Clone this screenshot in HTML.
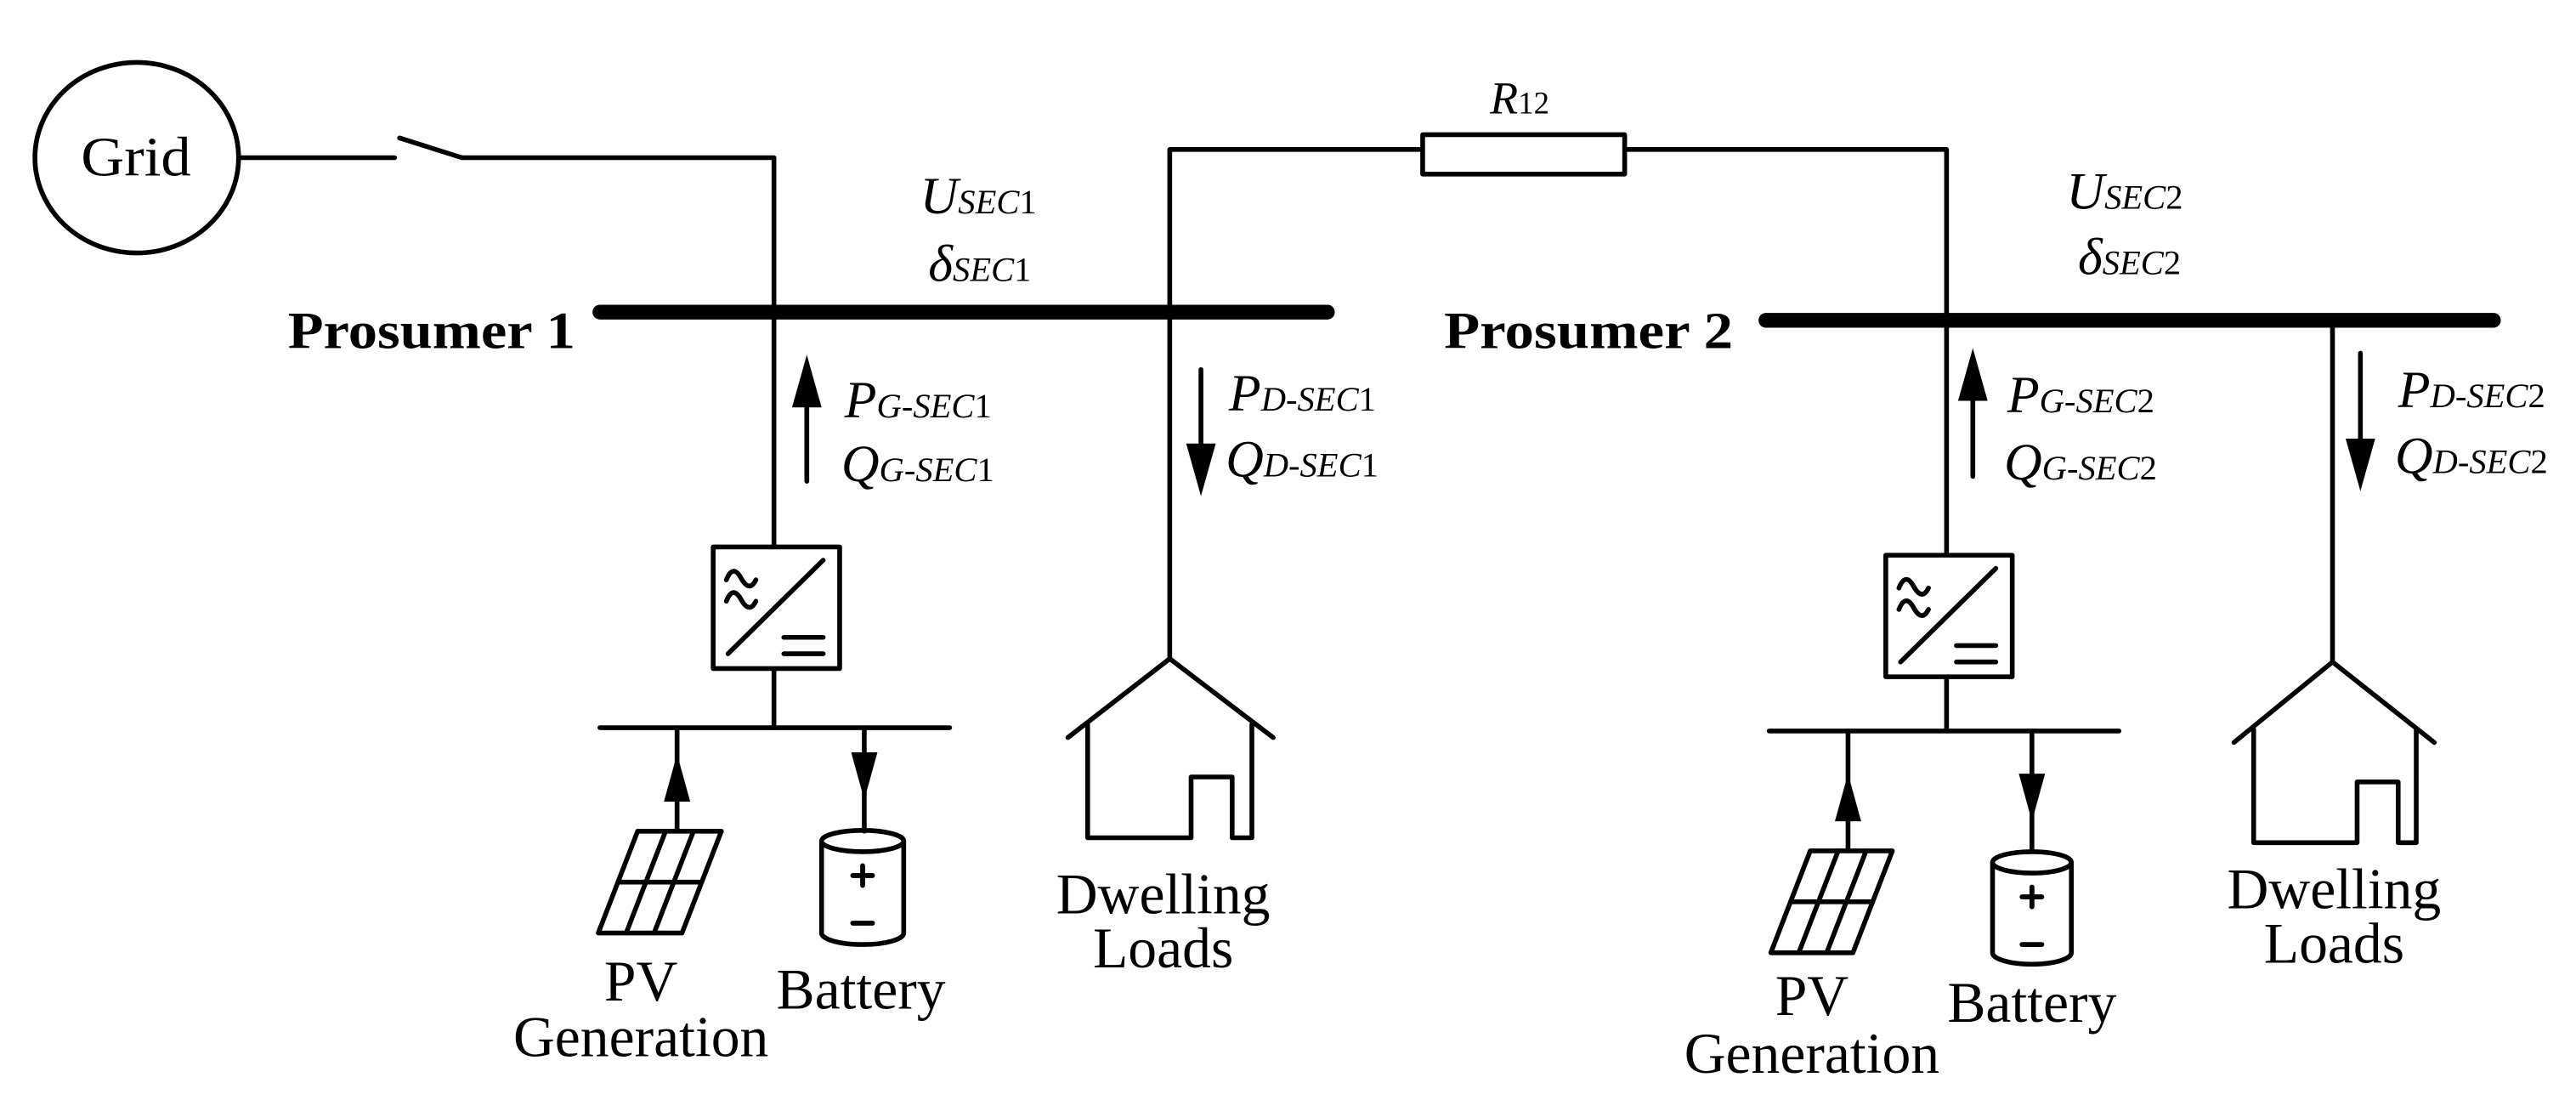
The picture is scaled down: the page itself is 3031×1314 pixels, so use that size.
<!DOCTYPE html>
<html><head><meta charset="utf-8"><style>
html,body{margin:0;padding:0;background:#fff;}
svg{display:block;}
text{font-family:"Liberation Serif",serif;fill:#000;}
.it{font-style:italic;}
</style></head><body>
<svg width="3031" height="1314" viewBox="0 0 1568 680" xmlns="http://www.w3.org/2000/svg">
<g fill="none" stroke="#000" stroke-width="2.9" stroke-linecap="round" stroke-linejoin="round">
  <ellipse cx="83" cy="96" rx="62" ry="58"/>
  <line x1="145" y1="96" x2="240" y2="96"/>
  <line x1="243" y1="84" x2="281" y2="96"/>
  <polyline points="281,96 471,96 471,443"/>
  <line x1="365" y1="190" x2="808" y2="190" stroke-width="9"/>
  <line x1="1075" y1="195" x2="1518" y2="195" stroke-width="9"/>
  <polyline points="712,401 712,91 866,91"/>
  <rect x="866" y="82" width="123" height="24"/>
  <polyline points="989,91 1185,91 1185,445"/>
  <line x1="491" y1="293" x2="491" y2="240"/>
  <line x1="731" y1="225" x2="731" y2="280"/>
  <line x1="1201" y1="290" x2="1201" y2="236"/>
  <line x1="1437" y1="215" x2="1437" y2="278"/>
  <line x1="1420" y1="195" x2="1420" y2="403"/>
  <rect x="434" y="333" width="77" height="74" fill="#fff"/>
  <path d="M442,353 q4,-10 9,-1 t9,1 M442,366 q4,-10 9,-1 t9,1"/>
  <line x1="443" y1="398" x2="501" y2="341"/>
  <line x1="477" y1="388" x2="501" y2="388"/>
  <line x1="477" y1="398" x2="501" y2="398"/>
  <line x1="365" y1="443" x2="578" y2="443"/>
  <line x1="412" y1="443" x2="412" y2="506"/>
  <line x1="526" y1="443" x2="526" y2="506"/>
  <polygon points="388,506 439,506 415,568 364,568"/>
  <line x1="376" y1="537" x2="427" y2="537"/>
  <line x1="405" y1="506" x2="381" y2="568"/>
  <line x1="422" y1="506" x2="398" y2="568"/>
  <path d="M500,512 L500,568 A25,7 0 0 0 550,568 L550,512"/>
  <ellipse cx="525" cy="512" rx="25" ry="6.5"/>
  <line x1="519" y1="533" x2="531" y2="533" stroke-width="3"/>
  <line x1="525" y1="527" x2="525" y2="539" stroke-width="3"/>
  <line x1="519" y1="562" x2="531" y2="562" stroke-width="3"/>
  <polyline points="650,449 712,401 775,449"/>
  <polyline points="662,441 662,510 725,510 725,473 750,473 750,510 762,510 762,441"/>
  <rect x="1148" y="338" width="77" height="74" fill="#fff"/>
  <path d="M1156,358 q4,-10 9,-1 t9,1 M1156,371 q4,-10 9,-1 t9,1"/>
  <line x1="1157" y1="403" x2="1215" y2="346"/>
  <line x1="1191" y1="393" x2="1215" y2="393"/>
  <line x1="1191" y1="403" x2="1215" y2="403"/>
  <line x1="1077" y1="445" x2="1290" y2="445"/>
  <line x1="1125" y1="445" x2="1125" y2="518"/>
  <line x1="1237" y1="445" x2="1237" y2="518"/>
  <polygon points="1102,518 1152,518 1128,580 1078,580"/>
  <line x1="1090" y1="549" x2="1140" y2="549"/>
  <line x1="1119" y1="518" x2="1095" y2="580"/>
  <line x1="1136" y1="518" x2="1112" y2="580"/>
  <path d="M1213,525 L1213,580 A24,7 0 0 0 1261,580 L1261,525"/>
  <ellipse cx="1237" cy="525" rx="24" ry="6.5"/>
  <line x1="1231" y1="546" x2="1243" y2="546" stroke-width="3"/>
  <line x1="1237" y1="540" x2="1237" y2="552" stroke-width="3"/>
  <line x1="1231" y1="575" x2="1243" y2="575" stroke-width="3"/>
  <polyline points="1360,452 1420,403 1482,452"/>
  <polyline points="1372,444 1372,513 1435,513 1435,476 1460,476 1460,513 1471,513 1471,444"/>
</g>
<g fill="#000">
  <polygon points="491,216 482,248 500,248"/>
  <polygon points="731,302 722,270 740,270"/>
  <polygon points="1201,212 1192,244 1210,244"/>
  <polygon points="1437,299 1428,267 1446,267"/>
  <polygon points="412,459 404,488 420,488"/>
  <polygon points="526,487 518,458 534,458"/>
  <polygon points="1125,471 1117,500 1133,500"/>
  <polygon points="1237,500 1229,471 1245,471"/>
</g>
<text x="49" y="107" font-size="34" textLength="67" lengthAdjust="spacingAndGlyphs">Grid</text>
<text x="175" y="212" font-size="32" font-weight="bold" textLength="175" lengthAdjust="spacingAndGlyphs">Prosumer 1</text>
<text x="879" y="212" font-size="32" font-weight="bold" textLength="176" lengthAdjust="spacingAndGlyphs">Prosumer 2</text>
<text x="907" y="69" font-size="28"><tspan class="it">R</tspan><tspan font-size="19">12</tspan></text>
<text x="560" y="130" font-size="32"><tspan class="it">U</tspan><tspan class="it" font-size="21">SEC</tspan><tspan font-size="21">1</tspan></text>
<text x="565" y="171" font-size="32"><tspan class="it">δ</tspan><tspan class="it" font-size="21">SEC</tspan><tspan font-size="21">1</tspan></text>
<text x="1258" y="127" font-size="32"><tspan class="it">U</tspan><tspan class="it" font-size="21">SEC</tspan><tspan font-size="21">2</tspan></text>
<text x="1265" y="167" font-size="32"><tspan class="it">δ</tspan><tspan class="it" font-size="21">SEC</tspan><tspan font-size="21">2</tspan></text>
<text x="514" y="254" font-size="32"><tspan class="it">P</tspan><tspan class="it" font-size="21">G-SEC</tspan><tspan font-size="21">1</tspan></text>
<text x="512" y="293" font-size="32"><tspan class="it">Q</tspan><tspan class="it" font-size="21">G-SEC</tspan><tspan font-size="21">1</tspan></text>
<text x="748" y="250" font-size="32"><tspan class="it">P</tspan><tspan class="it" font-size="21">D-SEC</tspan><tspan font-size="21">1</tspan></text>
<text x="746" y="290" font-size="32"><tspan class="it">Q</tspan><tspan class="it" font-size="21">D-SEC</tspan><tspan font-size="21">1</tspan></text>
<text x="1222" y="251" font-size="32"><tspan class="it">P</tspan><tspan class="it" font-size="21">G-SEC</tspan><tspan font-size="21">2</tspan></text>
<text x="1220" y="292" font-size="32"><tspan class="it">Q</tspan><tspan class="it" font-size="21">G-SEC</tspan><tspan font-size="21">2</tspan></text>
<text x="1460" y="248" font-size="32"><tspan class="it">P</tspan><tspan class="it" font-size="21">D-SEC</tspan><tspan font-size="21">2</tspan></text>
<text x="1458" y="288" font-size="32"><tspan class="it">Q</tspan><tspan class="it" font-size="21">D-SEC</tspan><tspan font-size="21">2</tspan></text>
<g font-size="35" text-anchor="middle">
  <text x="390" y="609">PV</text>
  <text x="390" y="643">Generation</text>
  <text x="524" y="614">Battery</text>
  <text x="708" y="556">Dwelling</text>
  <text x="708" y="589">Loads</text>
  <text x="1103" y="618">PV</text>
  <text x="1103" y="653">Generation</text>
  <text x="1237" y="622">Battery</text>
  <text x="1421" y="553">Dwelling</text>
  <text x="1421" y="586">Loads</text>
</g>
</svg>
</body></html>
